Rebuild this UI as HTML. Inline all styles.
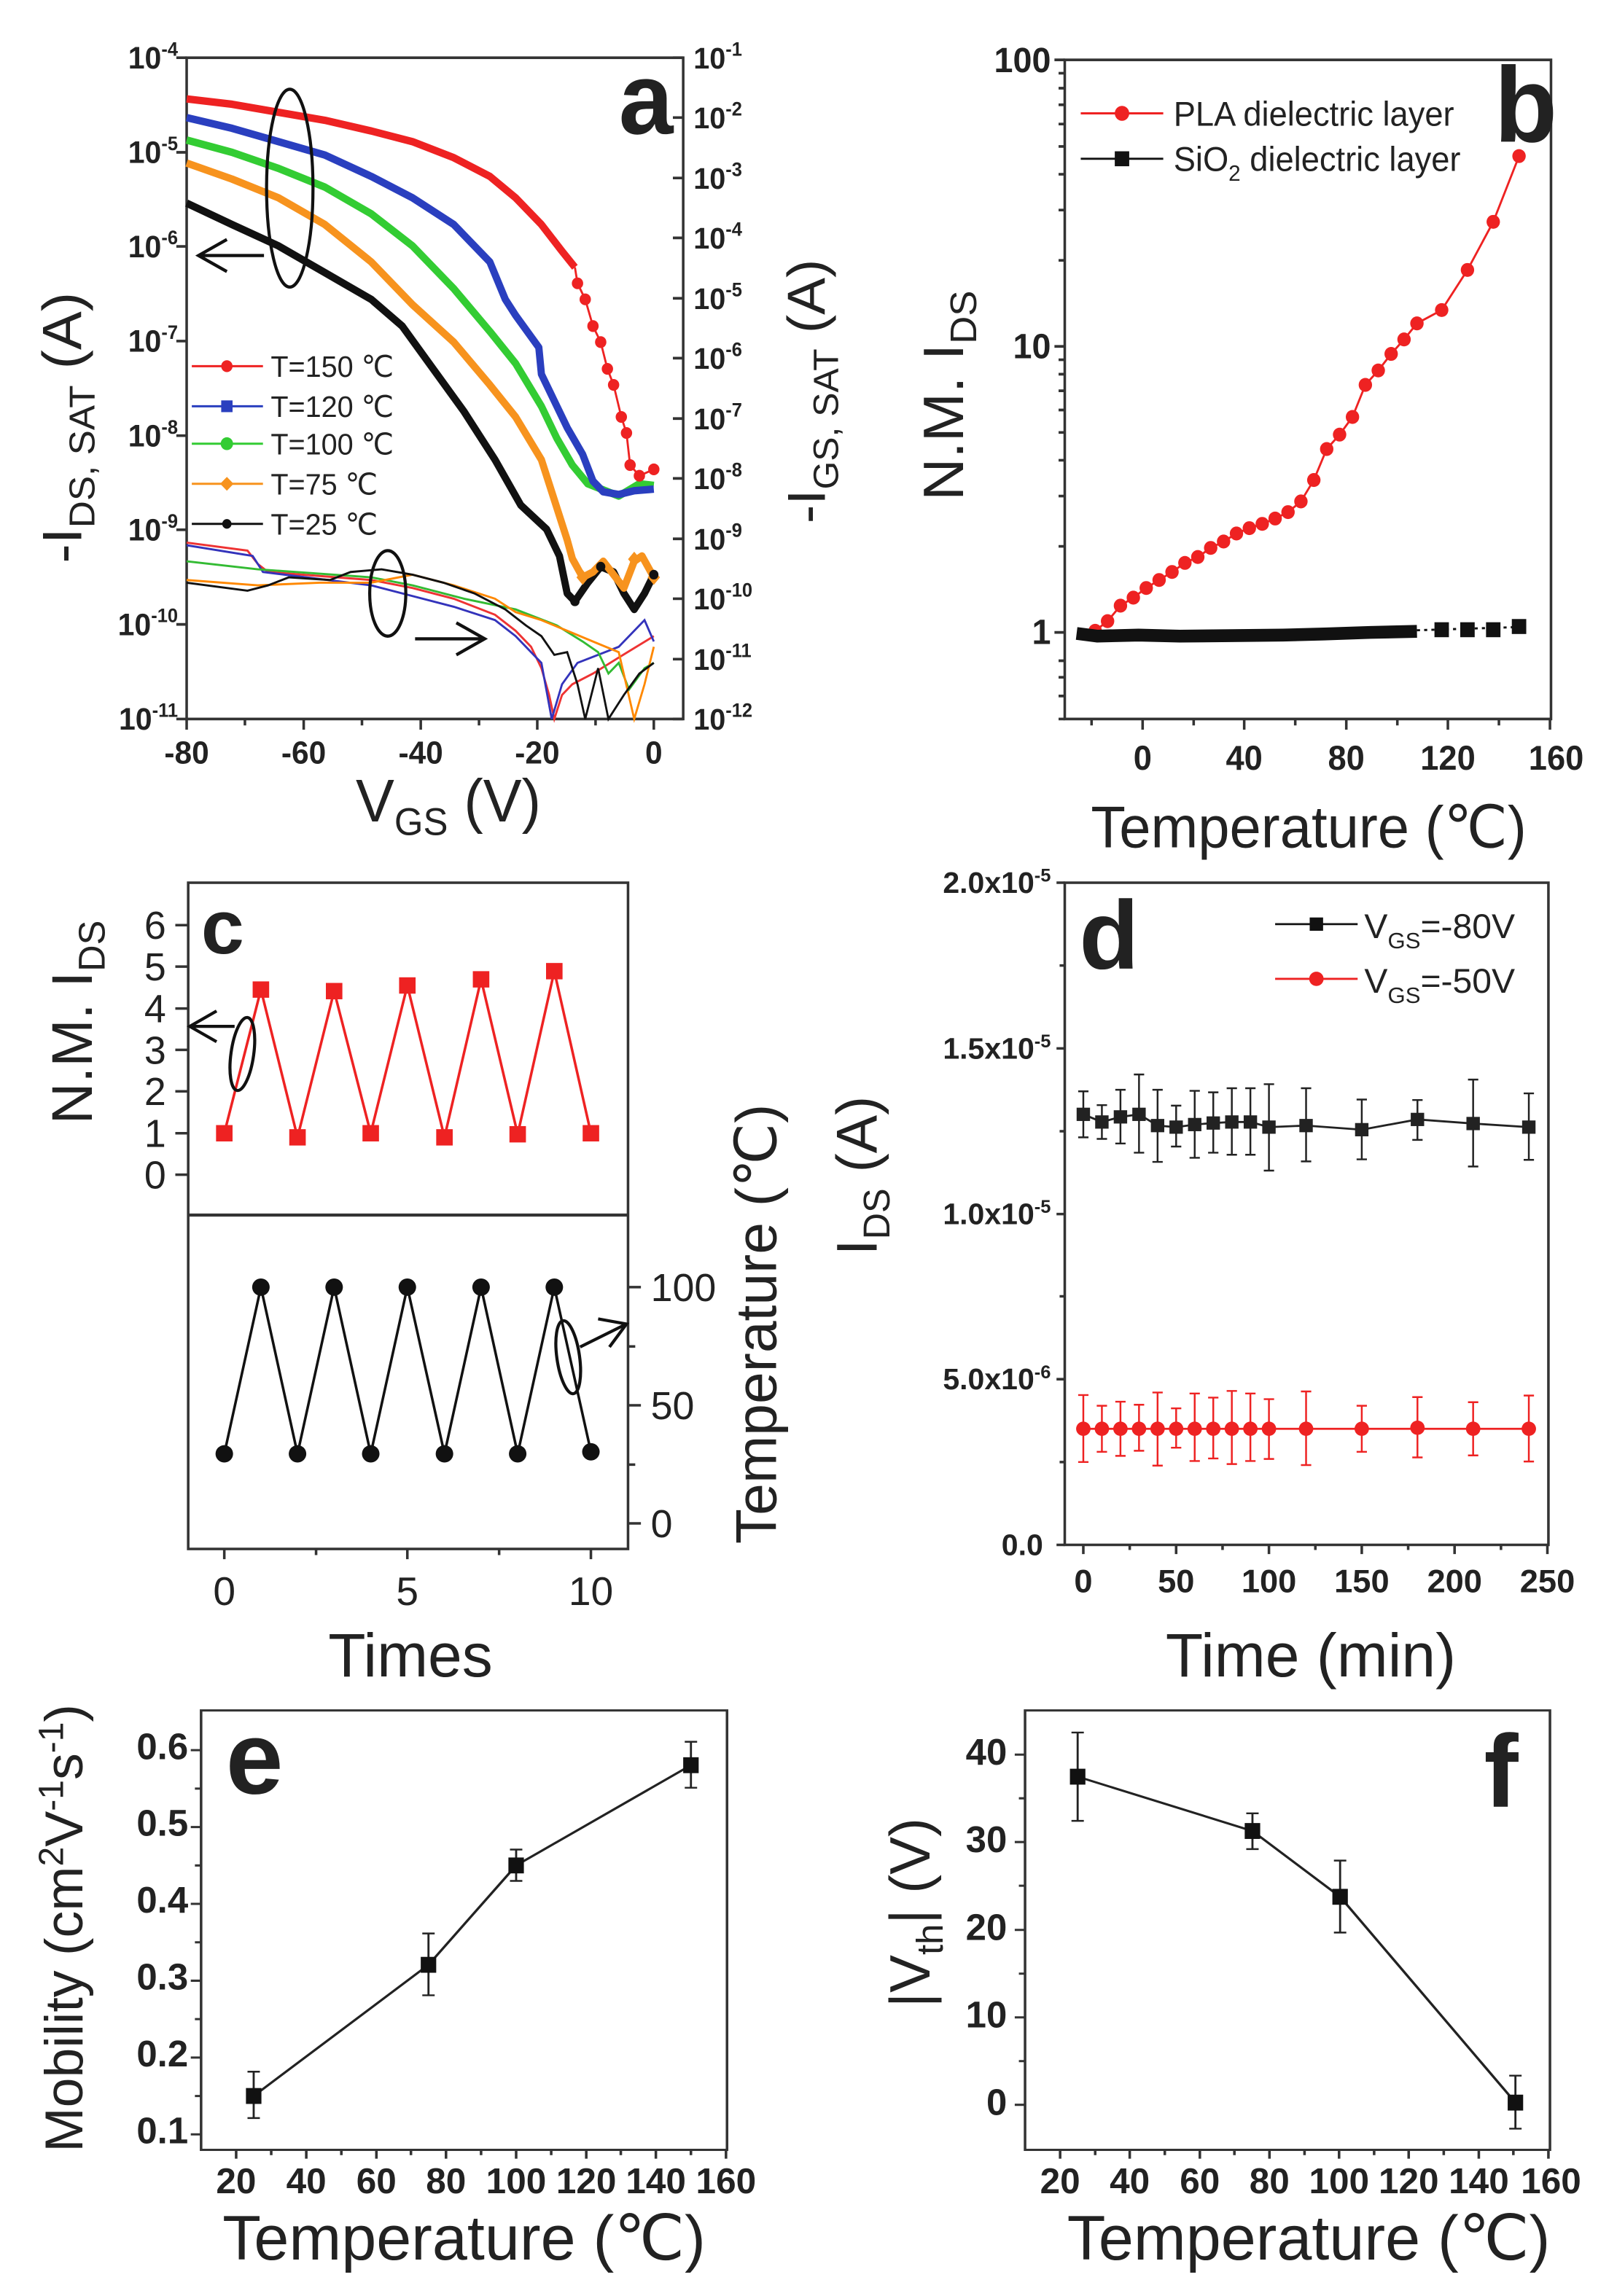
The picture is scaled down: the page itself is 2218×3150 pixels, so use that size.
<!DOCTYPE html>
<html><head><meta charset="utf-8"><style>
html,body{margin:0;padding:0;background:#fff}
svg{display:block}
text{font-family:"Liberation Sans","DejaVu Sans",sans-serif;fill:#222}
.b{font-weight:bold}
</style></head><body>
<svg width="2218" height="3150" viewBox="0 0 2218 3150" xmlns="http://www.w3.org/2000/svg">
<rect width="2218" height="3150" fill="#fff"/>

<!-- PANEL A -->
<g transform="translate(0,0) scale(0.70727,0.7334)">
<g stroke="#333" stroke-width="5" fill="none">
<rect x="362" y="108" width="963" height="1237"/>
<path d="M362 108h-20M362 285h-20M362 461h-20M362 638h-20M362 815h-20M362 991h-20M362 1168h-20M362 1345h-20"/>
<path d="M1325 108h-20M1325 220h-20M1325 333h-20M1325 445h-20M1325 558h-20M1325 670h-20M1325 783h-20M1325 895h-20M1325 1008h-20M1325 1120h-20M1325 1233h-20M1325 1345h-20"/>
<path d="M362 1345v20M589 1345v20M816 1345v20M1042 1345v20M1268 1345v20M475 1345v12M702 1345v12M929 1345v12M1155 1345v12"/>
</g>
<g font-size="58" class="b" text-anchor="end">
<text x="345" y="128" class="b">10<tspan font-size="36" dy="-24">-4</tspan></text>
<text x="345" y="305" class="b">10<tspan font-size="36" dy="-24">-5</tspan></text>
<text x="345" y="481" class="b">10<tspan font-size="36" dy="-24">-6</tspan></text>
<text x="345" y="658" class="b">10<tspan font-size="36" dy="-24">-7</tspan></text>
<text x="345" y="835" class="b">10<tspan font-size="36" dy="-24">-8</tspan></text>
<text x="345" y="1011" class="b">10<tspan font-size="36" dy="-24">-9</tspan></text>
<text x="345" y="1188" class="b">10<tspan font-size="36" dy="-24">-10</tspan></text>
<text x="345" y="1365" class="b">10<tspan font-size="36" dy="-24">-11</tspan></text>
</g>
<g font-size="56" class="b">
<text x="1345" y="128" class="b">10<tspan font-size="36" dy="-24">-1</tspan></text>
<text x="1345" y="240" class="b">10<tspan font-size="36" dy="-24">-2</tspan></text>
<text x="1345" y="353" class="b">10<tspan font-size="36" dy="-24">-3</tspan></text>
<text x="1345" y="465" class="b">10<tspan font-size="36" dy="-24">-4</tspan></text>
<text x="1345" y="578" class="b">10<tspan font-size="36" dy="-24">-5</tspan></text>
<text x="1345" y="690" class="b">10<tspan font-size="36" dy="-24">-6</tspan></text>
<text x="1345" y="803" class="b">10<tspan font-size="36" dy="-24">-7</tspan></text>
<text x="1345" y="915" class="b">10<tspan font-size="36" dy="-24">-8</tspan></text>
<text x="1345" y="1028" class="b">10<tspan font-size="36" dy="-24">-9</tspan></text>
<text x="1345" y="1140" class="b">10<tspan font-size="36" dy="-24">-10</tspan></text>
<text x="1345" y="1253" class="b">10<tspan font-size="36" dy="-24">-11</tspan></text>
<text x="1345" y="1365" class="b">10<tspan font-size="36" dy="-24">-12</tspan></text>
</g>
<g font-size="60" class="b" text-anchor="middle">
<text x="362" y="1428" class="b">-80</text><text x="589" y="1428" class="b">-60</text><text x="816" y="1428" class="b">-40</text><text x="1042" y="1428" class="b">-20</text><text x="1268" y="1428" class="b">0</text>
</g>
<text x="690" y="1537" font-size="112">V<tspan font-size="72" dy="25">GS</tspan><tspan dy="-25"> (V)</tspan></text>
<text transform="translate(158,800) rotate(-90)" text-anchor="middle" font-size="108">-I<tspan font-size="70" dy="25">DS, SAT</tspan><tspan dy="-25"> (A)</tspan></text>
<text transform="translate(1600,732) rotate(-90)" text-anchor="middle" font-size="104">-I<tspan font-size="68" dy="25">GS, SAT</tspan><tspan dy="-25"> (A)</tspan></text>
<text x="1200" y="250" font-size="190" class="b">a</text>
<g fill="none" stroke-width="4">
<polyline stroke="#e33" points="362,1015 480,1030 500,1055 520,1070 720,1085 800,1100 880,1120 960,1150 1000,1180 1030,1210 1050,1250 1065,1300 1075,1345 1090,1300 1110,1280 1150,1260 1200,1230 1268,1190"/>
<polyline stroke="#33b" points="362,1020 490,1040 510,1070 720,1095 800,1115 880,1135 960,1160 1000,1190 1050,1240 1070,1345 1090,1280 1120,1240 1200,1210 1250,1160 1268,1200"/>
<polyline stroke="#3b3" points="362,1050 500,1065 720,1080 800,1095 900,1120 1000,1140 1080,1170 1130,1200 1160,1220 1180,1260 1200,1240 1220,1290 1250,1250 1268,1240"/>
<polyline stroke="#f80" points="362,1085 500,1095 620,1090 720,1090 800,1075 880,1095 960,1120 1000,1145 1050,1160 1100,1180 1150,1200 1200,1220 1230,1345 1250,1280 1268,1210"/>
<polyline stroke="#111" points="362,1090 480,1105 520,1095 560,1080 640,1085 680,1070 740,1065 800,1075 860,1090 920,1110 980,1140 1020,1170 1050,1190 1075,1225 1100,1220 1120,1280 1135,1345 1160,1250 1180,1345 1210,1300 1240,1260 1268,1240"/>
</g>
<g fill="none" stroke-width="14" stroke-linejoin="round">
<polyline stroke="#111" points="362,380 450,420 540,460 630,510 720,560 780,610 840,690 900,770 960,860 1010,945 1060,990 1085,1040 1100,1110 1115,1125 1140,1090 1165,1060 1190,1070 1210,1110 1230,1140 1250,1110 1268,1075"/>
<polyline stroke="#f7931e" points="362,305 450,335 540,370 630,420 720,490 800,570 880,640 950,720 1000,780 1050,860 1080,950 1100,1010 1110,1045 1130,1080 1150,1070 1170,1050 1190,1075 1210,1100 1230,1050 1245,1040 1268,1080"/>
<polyline stroke="#3c3" points="362,262 450,285 540,315 630,350 720,400 800,460 880,540 950,620 1000,680 1050,760 1080,820 1110,870 1140,905 1200,928 1240,905 1268,908"/>
<polyline stroke="#2a3fbf" points="362,220 450,240 540,265 630,290 720,330 800,370 880,420 950,490 980,560 1000,590 1045,650 1050,700 1080,760 1100,800 1130,850 1150,900 1170,920 1200,925 1230,918 1268,915"/>
<polyline stroke="#e22" points="362,185 450,195 540,210 630,225 720,245 800,265 880,295 950,330 1000,370 1050,420 1090,470 1115,500"/>
<polyline stroke="#e22" stroke-width="4" points="1115,500 1120,530 1135,560 1150,610 1165,640 1178,690 1190,720 1205,780 1215,810 1222,870 1240,890 1268,878"/>
</g>
<g fill="#e22"><circle cx="1120" cy="530" r="11"/><circle cx="1135" cy="560" r="11"/><circle cx="1150" cy="610" r="11"/><circle cx="1165" cy="640" r="11"/><circle cx="1178" cy="690" r="11"/><circle cx="1190" cy="720" r="11"/><circle cx="1205" cy="780" r="11"/><circle cx="1215" cy="810" r="11"/><circle cx="1222" cy="870" r="11"/><circle cx="1240" cy="890" r="11"/><circle cx="1268" cy="878" r="11"/></g>
<g fill="#f7931e"><path d="M1230 1032l12 14-12 14-12-14zM1268 1066l12 14-12 14-12-14zM1130 1066l12 14-12 14-12-14z"/></g>
<g fill="#111"><circle cx="1115" cy="1125" r="9"/><circle cx="1268" cy="1075" r="9"/><circle cx="1165" cy="1060" r="9"/></g>
<g fill="none" stroke="#111" stroke-width="6">
<ellipse cx="562" cy="352" rx="45" ry="185"/>
<ellipse cx="752" cy="1110" rx="35" ry="80"/>
<path d="M512 478H385M440 448L385 478L440 508"/>
<path d="M805 1195H940M885 1165L940 1195L885 1225"/>
</g>
<g stroke-width="4">
<line x1="372" y1="685" x2="510" y2="685" stroke="#e22"/><circle cx="440" cy="685" r="11" fill="#e22"/>
<line x1="372" y1="760" x2="510" y2="760" stroke="#2a3fbf"/><rect x="429" y="749" width="22" height="22" fill="#2a3fbf"/>
<line x1="372" y1="830" x2="510" y2="830" stroke="#3c3"/><circle cx="440" cy="830" r="12" fill="#3c3"/>
<line x1="372" y1="905" x2="510" y2="905" stroke="#f7931e"/><path d="M440 892l13 13-13 13-13-13z" fill="#f7931e"/>
<line x1="372" y1="980" x2="510" y2="980" stroke="#111"/><circle cx="440" cy="980" r="9" fill="#111"/>
</g>
<g font-size="56"><text x="525" y="705">T=150 ℃</text><text x="525" y="780">T=120 ℃</text><text x="525" y="850">T=100 ℃</text><text x="525" y="925">T=75 ℃</text><text x="525" y="1000">T=25 ℃</text></g>
</g>

<!-- PANEL B -->
<g transform="translate(1109,0) scale(0.70727,0.7334)">
<g stroke="#333" stroke-width="5" fill="none">
<rect x="497" y="112" width="943" height="1233"/>
<path d="M497 112h-20M497 648h-20M497 1183h-20M497 1345h-12M497 1302h-12M497 1267h-12M497 1236h-12"/>
<path d="M497 487h-12M497 393h-12M497 326h-12M497 274h-12M497 232h-12M497 196h-12M497 165h-12M497 137h-12"/>
<path d="M497 1022h-12M497 928h-12M497 861h-12M497 809h-12M497 767h-12M497 731h-12M497 700h-12M497 673h-12"/>
<path d="M648 1345v20M845 1345v20M1043 1345v20M1240 1345v20M1438 1345v20M549 1345v12M747 1345v12M944 1345v12M1142 1345v12M1339 1345v12"/>
</g>
<g font-size="66" class="b" text-anchor="end"><text x="470" y="135" class="b">100</text><text x="470" y="670" class="b">10</text><text x="470" y="1205" class="b">1</text></g>
<g font-size="64" class="b" text-anchor="middle"><text x="648" y="1440" class="b">0</text><text x="845" y="1440" class="b">40</text><text x="1043" y="1440" class="b">80</text><text x="1240" y="1440" class="b">120</text><text x="1450" y="1440" class="b">160</text></g>
<text x="970" y="1585" font-size="110" text-anchor="middle">Temperature (℃)</text>
<text transform="translate(300,740) rotate(-90)" text-anchor="middle" font-size="110">N.M. I<tspan font-size="72" dy="25">DS</tspan></text>
<text x="1330" y="265" font-size="200" class="b">b</text>
<line x1="528" y1="212" x2="688" y2="212" stroke="#e22" stroke-width="4"/><circle cx="608" cy="212" r="14" fill="#e22"/>
<line x1="528" y1="297" x2="688" y2="297" stroke="#111" stroke-width="4"/><rect x="594" y="283" width="28" height="28" fill="#111"/>
<text x="708" y="235" font-size="64">PLA dielectric layer</text>
<text x="708" y="320" font-size="64">SiO<tspan font-size="42" dy="18">2</tspan><tspan dy="-18"> dielectric layer</tspan></text>
<polyline fill="none" stroke="#e22" stroke-width="4" points="556,1180 580,1162 605,1133 630,1118 655,1100 680,1085 705,1070 730,1053 755,1042 780,1025 805,1013 830,998 855,988 880,980 905,970 930,958 955,938 980,898 1005,840 1030,813 1055,780 1080,720 1105,693 1130,662 1155,635 1180,605 1228,580 1278,505 1328,415 1378,292"/>
<g fill="#e22"><circle cx="556" cy="1180" r="13"/><circle cx="580" cy="1162" r="13"/><circle cx="605" cy="1133" r="13"/><circle cx="630" cy="1118" r="13"/><circle cx="655" cy="1100" r="13"/><circle cx="680" cy="1085" r="13"/><circle cx="705" cy="1070" r="13"/><circle cx="730" cy="1053" r="13"/><circle cx="755" cy="1042" r="13"/><circle cx="780" cy="1025" r="13"/><circle cx="805" cy="1013" r="13"/><circle cx="830" cy="998" r="13"/><circle cx="855" cy="988" r="13"/><circle cx="880" cy="980" r="13"/><circle cx="905" cy="970" r="13"/><circle cx="930" cy="958" r="13"/><circle cx="955" cy="938" r="13"/><circle cx="980" cy="898" r="13"/><circle cx="1005" cy="840" r="13"/><circle cx="1030" cy="813" r="13"/><circle cx="1055" cy="780" r="13"/><circle cx="1080" cy="720" r="13"/><circle cx="1105" cy="693" r="13"/><circle cx="1130" cy="662" r="13"/><circle cx="1155" cy="635" r="13"/><circle cx="1180" cy="605" r="13"/><circle cx="1228" cy="580" r="13"/><circle cx="1278" cy="505" r="13"/><circle cx="1328" cy="415" r="13"/><circle cx="1378" cy="292" r="13"/></g>
<polyline fill="none" stroke="#111" stroke-width="24" points="520,1185 560,1190 640,1188 720,1190 820,1189 920,1188 1000,1186 1090,1183 1180,1181"/>
<line x1="1180" y1="1179" x2="1378" y2="1173" stroke="#111" stroke-width="4" stroke-dasharray="6 8"/>
<g fill="#111"><rect x="1214" y="1164" width="28" height="28"/><rect x="1264" y="1164" width="28" height="28"/><rect x="1314" y="1164" width="28" height="28"/><rect x="1364" y="1158" width="28" height="28"/></g>
</g>

<!-- PANEL C -->
<g transform="translate(0,1150) scale(0.70727,0.7015)">
<g stroke="#333" stroke-width="5" fill="none">
<rect x="365" y="87" width="853" height="1303"/>
<line x1="365" y1="737" x2="1218" y2="737" stroke-width="6"/>
<path d="M365 658h-25M365 577h-25M365 495h-25M365 414h-25M365 333h-25M365 251h-25M365 170h-25"/>
<path d="M1218 1340h25M1218 1109h25M1218 878h25M1218 1225h14M1218 994h14"/>
<path d="M435 1390v20M790 1390v20M1146 1390v20M613 1390v12M968 1390v12"/>
</g>
<g font-size="76" text-anchor="end"><text x="322" y="685">0</text><text x="322" y="604">1</text><text x="322" y="522">2</text><text x="322" y="441">3</text><text x="322" y="360">4</text><text x="322" y="278">5</text><text x="322" y="197">6</text></g>
<g font-size="76"><text x="1262" y="1367">0</text><text x="1262" y="1136">50</text><text x="1262" y="905">100</text></g>
<g font-size="78" text-anchor="middle"><text x="435" y="1500">0</text><text x="790" y="1500">5</text><text x="1146" y="1500">10</text></g>
<text transform="translate(178,360) rotate(-90)" text-anchor="middle" font-size="112">N.M. I<tspan font-size="72" dy="25">DS</tspan></text>
<text transform="translate(1505,950) rotate(-90)" text-anchor="middle" font-size="112">Temperature (℃)</text>
<text x="390" y="225" font-size="150" class="b">c</text>
<polyline fill="none" stroke="#e22" stroke-width="5" points="435,577 506,296 577,585 648,299 719,577 790,288 862,585 933,276 1004,579 1075,260 1146,577"/>
<g fill="#e22"><rect x="419" y="561" width="32" height="32"/><rect x="490" y="280" width="32" height="32"/><rect x="561" y="569" width="32" height="32"/><rect x="632" y="283" width="32" height="32"/><rect x="703" y="561" width="32" height="32"/><rect x="774" y="272" width="32" height="32"/><rect x="846" y="569" width="32" height="32"/><rect x="917" y="260" width="32" height="32"/><rect x="988" y="563" width="32" height="32"/><rect x="1059" y="244" width="32" height="32"/><rect x="1130" y="561" width="32" height="32"/></g>
<polyline fill="none" stroke="#111" stroke-width="5" points="435,1204 506,878 577,1204 648,878 719,1204 790,878 862,1204 933,878 1004,1204 1075,878 1146,1200"/>
<g fill="#111"><circle cx="435" cy="1204" r="17"/><circle cx="506" cy="878" r="17"/><circle cx="577" cy="1204" r="17"/><circle cx="648" cy="878" r="17"/><circle cx="719" cy="1204" r="17"/><circle cx="790" cy="878" r="17"/><circle cx="862" cy="1204" r="17"/><circle cx="933" cy="878" r="17"/><circle cx="1004" cy="1204" r="17"/><circle cx="1075" cy="878" r="17"/><circle cx="1146" cy="1200" r="17"/></g>
<g fill="none" stroke="#111" stroke-width="6">
<ellipse cx="470" cy="422" rx="22" ry="72" transform="rotate(8 470 422)"/>
<path d="M455 368H368M420 338L368 368L420 398"/>
<ellipse cx="1102" cy="1015" rx="22" ry="72" transform="rotate(-8 1102 1015)"/>
<path d="M1125 995L1215 950M1160 940L1215 950L1182 995"/>
</g>
</g>
<text x="563" y="2300" font-size="84" text-anchor="middle">Times</text>

<!-- PANEL D -->
<g transform="translate(1109,1150) scale(0.70727,0.7015)">
<g stroke="#333" stroke-width="5" fill="none">
<rect x="497" y="87" width="938" height="1295"/>
<path d="M497 87h-16M497 411h-16M497 735h-16M497 1058h-16M497 1382h-16M497 249h-10M497 573h-10M497 896h-10M497 1220h-10"/>
<path d="M533 1382v18M713 1382v18M893 1382v18M1073 1382v18M1253 1382v18M1433 1382v18M623 1382v10M803 1382v10M983 1382v10M1163 1382v10M1343 1382v10"/>
</g>
<g font-size="58" class="b" text-anchor="end">
<text x="470" y="107" class="b">2.0x10<tspan font-size="36" dy="-22">-5</tspan></text>
<text x="470" y="431" class="b">1.5x10<tspan font-size="36" dy="-22">-5</tspan></text>
<text x="470" y="755" class="b">1.0x10<tspan font-size="36" dy="-22">-5</tspan></text>
<text x="470" y="1078" class="b">5.0x10<tspan font-size="36" dy="-22">-6</tspan></text>
<text x="455" y="1402" class="b">0.0</text>
</g>
<g font-size="64" class="b" text-anchor="middle"><text x="533" y="1475" class="b">0</text><text x="713" y="1475" class="b">50</text><text x="893" y="1475" class="b">100</text><text x="1073" y="1475" class="b">150</text><text x="1253" y="1475" class="b">200</text><text x="1433" y="1475" class="b">250</text></g>
<text transform="translate(132,660) rotate(-90)" text-anchor="middle" font-size="112">I<tspan font-size="72" dy="25">DS</tspan><tspan dy="-25"> (A)</tspan></text>
<text x="525" y="255" font-size="190" class="b">d</text>
<line x1="905" y1="168" x2="1065" y2="168" stroke="#111" stroke-width="4"/><rect x="972" y="155" width="26" height="26" fill="#111"/>
<line x1="905" y1="275" x2="1065" y2="275" stroke="#e22" stroke-width="4"/><circle cx="985" cy="275" r="14" fill="#e22"/>
<text x="1078" y="195" font-size="68">V<tspan font-size="44" dy="20">GS</tspan><tspan dy="-20">=-80V</tspan></text>
<text x="1078" y="302" font-size="68">V<tspan font-size="44" dy="20">GS</tspan><tspan dy="-20">=-50V</tspan></text>
<g stroke="#222" stroke-width="3.5" fill="none">
<path d="M533 495v90M569 522v66M605 492v105M641 462v153M677 492v141M713 523v80M749 494v131M785 497v118M821 489v130M857 489v130M893 481v169M965 489v143M1073 511v117M1181 512v78M1289 472v170M1397 499v130"/>
<path d="M523 495h20M523 585h20M559 522h20M559 588h20M595 492h20M595 597h20M631 462h20M631 615h20M667 492h20M667 633h20M703 523h20M703 603h20M739 494h20M739 625h20M775 497h20M775 615h20M811 489h20M811 619h20M847 489h20M847 619h20M883 481h20M883 650h20M955 489h20M955 632h20M1063 511h20M1063 628h20M1171 512h20M1171 590h20M1279 472h20M1279 642h20M1387 499h20M1387 629h20"/>
<polyline stroke-width="4" points="533,540 569,555 605,545 641,540 677,562 713,565 749,560 785,557 821,555 857,555 893,565 965,562 1073,570 1181,550 1289,558 1397,565"/>
</g>
<g fill="#222"><rect x="520" y="527" width="26" height="26"/><rect x="556" y="542" width="26" height="26"/><rect x="592" y="532" width="26" height="26"/><rect x="628" y="527" width="26" height="26"/><rect x="664" y="549" width="26" height="26"/><rect x="700" y="552" width="26" height="26"/><rect x="736" y="547" width="26" height="26"/><rect x="772" y="544" width="26" height="26"/><rect x="808" y="542" width="26" height="26"/><rect x="844" y="542" width="26" height="26"/><rect x="880" y="552" width="26" height="26"/><rect x="952" y="549" width="26" height="26"/><rect x="1060" y="557" width="26" height="26"/><rect x="1168" y="537" width="26" height="26"/><rect x="1276" y="545" width="26" height="26"/><rect x="1384" y="552" width="26" height="26"/></g>
<g stroke="#e22" stroke-width="3.5" fill="none">
<path d="M533 1089v131M569 1110v90M605 1102v106M641 1108v90M677 1084v143M713 1115v77M749 1086v132M785 1094v119M821 1081v143M857 1086v132M893 1097v117M965 1082v144M1073 1110v90M1181 1093v118M1289 1103v104M1397 1090v129"/>
<path d="M523 1089h20M523 1220h20M559 1110h20M559 1200h20M595 1102h20M595 1208h20M631 1108h20M631 1198h20M667 1084h20M667 1227h20M703 1115h20M703 1192h20M739 1086h20M739 1218h20M775 1094h20M775 1213h20M811 1081h20M811 1224h20M847 1086h20M847 1218h20M883 1097h20M883 1214h20M955 1082h20M955 1226h20M1063 1110h20M1063 1200h20M1171 1093h20M1171 1211h20M1279 1103h20M1279 1207h20M1387 1090h20M1387 1219h20"/>
<polyline stroke-width="4" points="533,1155 1397,1155"/>
</g>
<g fill="#e22"><circle cx="533" cy="1155" r="14"/><circle cx="569" cy="1155" r="14"/><circle cx="605" cy="1155" r="14"/><circle cx="641" cy="1155" r="14"/><circle cx="677" cy="1155" r="14"/><circle cx="713" cy="1155" r="14"/><circle cx="749" cy="1155" r="14"/><circle cx="785" cy="1155" r="14"/><circle cx="821" cy="1155" r="14"/><circle cx="857" cy="1155" r="14"/><circle cx="893" cy="1155" r="14"/><circle cx="965" cy="1155" r="14"/><circle cx="1073" cy="1155" r="14"/><circle cx="1181" cy="1153" r="14"/><circle cx="1289" cy="1155" r="14"/><circle cx="1397" cy="1155" r="14"/></g>
</g>
<text x="1798" y="2300" font-size="84" text-anchor="middle">Time (min)</text>

<!-- PANEL E -->
<g transform="translate(0,2200) scale(0.70727,0.6059)">
<g stroke="#333" stroke-width="5" fill="none">
<rect x="390" y="242" width="1020" height="995"/>
<path d="M390 1202h-20M390 1028h-20M390 854h-20M390 680h-20M390 506h-20M390 332h-20M390 1115h-12M390 941h-12M390 767h-12M390 593h-12M390 419h-12"/>
<path d="M458 1237v20M594 1237v20M730 1237v20M865 1237v20M1001 1237v20M1137 1237v20M1272 1237v20M1408 1237v20M526 1237v12M662 1237v12M797 1237v12M933 1237v12M1069 1237v12M1204 1237v12M1340 1237v12"/>
</g>
<g font-size="72" class="b" text-anchor="end">
<g transform="translate(365,1222) scale(1,1.167)"><text class="b">0.1</text></g>
<g transform="translate(365,1048) scale(1,1.167)"><text class="b">0.2</text></g>
<g transform="translate(365,874) scale(1,1.167)"><text class="b">0.3</text></g>
<g transform="translate(365,700) scale(1,1.167)"><text class="b">0.4</text></g>
<g transform="translate(365,526) scale(1,1.167)"><text class="b">0.5</text></g>
<g transform="translate(365,352) scale(1,1.167)"><text class="b">0.6</text></g>
</g>
<g font-size="70" class="b" text-anchor="middle">
<g transform="translate(0,1335) scale(1,1.167)"><text x="458" class="b">20</text><text x="594" class="b">40</text><text x="730" class="b">60</text><text x="865" class="b">80</text><text x="1001" class="b">100</text><text x="1137" class="b">120</text><text x="1272" class="b">140</text><text x="1408" class="b">160</text></g>
</g>
<g transform="translate(900,1485) scale(1,1.167)"><text font-size="122" text-anchor="middle">Temperature (℃)</text></g>
<g transform="translate(160,735) scale(1,1.167)"><text transform="rotate(-90)" text-anchor="middle" font-size="104">Mobility (cm<tspan font-size="68" dy="-38">2</tspan><tspan dy="38">V</tspan><tspan font-size="68" dy="-38">-1</tspan><tspan dy="38">s</tspan><tspan font-size="68" dy="-38">-1</tspan><tspan dy="38">)</tspan></text></g>
<g transform="translate(438,430) scale(1,1.167)"><text font-size="200" class="b">e</text></g>
<g stroke="#222" stroke-width="4" fill="none">
<polyline stroke-width="5" points="492,1115 831,818 1001,593 1340,366"/>
<path d="M492 1060v105M831 747v140M1001 557v71M1340 313v104M480 1060h24M480 1165h24M819 747h24M819 887h24M989 557h24M989 628h24M1328 313h24M1328 417h24"/>
</g>
<g fill="#111"><rect x="477" y="1097" width="30" height="36"/><rect x="816" y="800" width="30" height="36"/><rect x="986" y="575" width="30" height="36"/><rect x="1325" y="348" width="30" height="36"/></g>
</g>

<!-- PANEL F -->
<g transform="translate(1109,2200) scale(0.70727,0.6059)">
<g stroke="#333" stroke-width="5" fill="none">
<rect x="420" y="242" width="1018" height="995"/>
<path d="M420 1135h-20M420 937h-20M420 739h-20M420 540h-20M420 342h-20M420 1036h-12M420 838h-12M420 639h-12M420 441h-12"/>
<path d="M488 1237v20M623 1237v20M759 1237v20M894 1237v20M1029 1237v20M1164 1237v20M1300 1237v20M1435 1237v20M556 1237v12M691 1237v12M826 1237v12M962 1237v12M1097 1237v12M1232 1237v12M1367 1237v12"/>
</g>
<g font-size="72" class="b" text-anchor="end">
<g transform="translate(385,1158) scale(1,1.167)"><text class="b">0</text></g>
<g transform="translate(385,960) scale(1,1.167)"><text class="b">10</text></g>
<g transform="translate(385,762) scale(1,1.167)"><text class="b">20</text></g>
<g transform="translate(385,563) scale(1,1.167)"><text class="b">30</text></g>
<g transform="translate(385,365) scale(1,1.167)"><text class="b">40</text></g>
</g>
<g font-size="70" class="b" text-anchor="middle">
<g transform="translate(0,1335) scale(1,1.167)"><text x="488" class="b">20</text><text x="623" class="b">40</text><text x="759" class="b">60</text><text x="894" class="b">80</text><text x="1029" class="b">100</text><text x="1164" class="b">120</text><text x="1300" class="b">140</text><text x="1440" class="b">160</text></g>
</g>
<g transform="translate(970,1485) scale(1,1.167)"><text font-size="122" text-anchor="middle">Temperature (℃)</text></g>
<g transform="translate(235,700) scale(1,1.167)"><text transform="rotate(-90)" text-anchor="middle" font-size="110">|V<tspan font-size="72" dy="25">th</tspan><tspan dy="-25">| (V)</tspan></text></g>
<g transform="translate(1310,460) scale(1,1.167)"><text font-size="200" class="b">f</text></g>
<g stroke="#222" stroke-width="4" fill="none">
<polyline stroke-width="5" points="522,392 861,515 1031,664 1371,1130"/>
<path d="M522 292v200M861 475v81M1031 582v163M1371 1069v120M510 292h24M510 492h24M849 475h24M849 556h24M1019 582h24M1019 745h24M1359 1069h24M1359 1189h24"/>
</g>
<g fill="#111"><rect x="507" y="374" width="30" height="36"/><rect x="846" y="497" width="30" height="36"/><rect x="1016" y="646" width="30" height="36"/><rect x="1356" y="1112" width="30" height="36"/></g>
</g>
</svg>
</body></html>
